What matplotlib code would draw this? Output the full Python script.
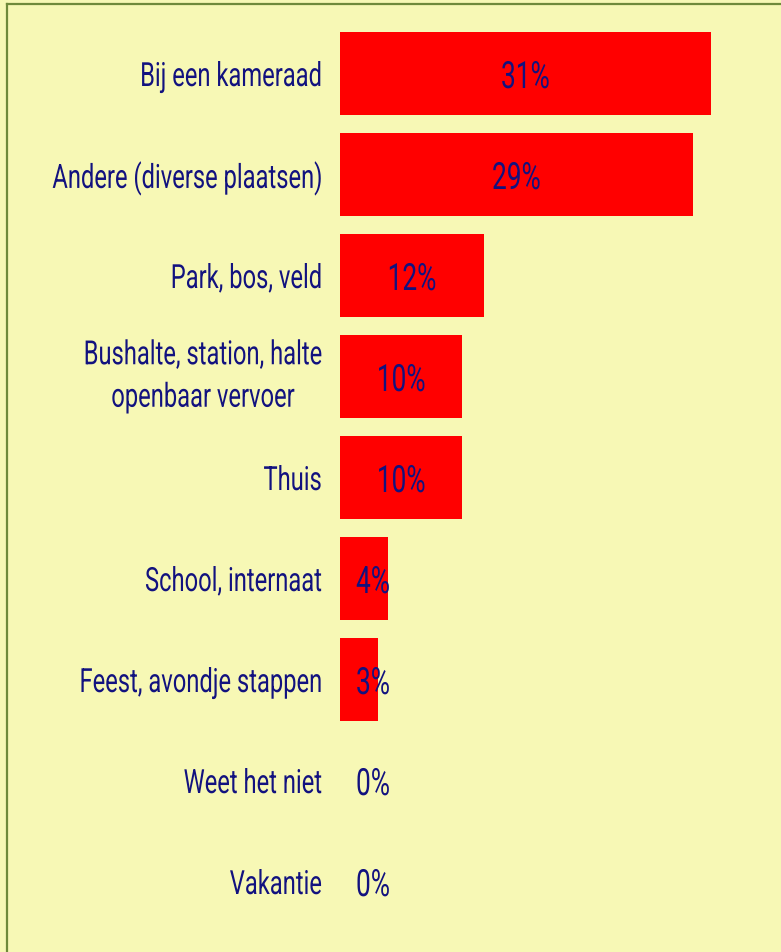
import matplotlib
matplotlib.use('Agg')
import matplotlib.pyplot as plt
from matplotlib.lines import Line2D
from matplotlib.patheffects import AbstractPathEffect
from matplotlib.transforms import Affine2D, Bbox
from matplotlib.text import Text

# data
categories = ['Bij een kameraad', 'Andere (diverse plaatsen)', 'Park, bos, veld',
              'Bushalte, station, halte\nopenbaar vervoer', 'Thuis', 'School, internaat',
              'Feest, avondje stappen', 'Weet het niet', 'Vakantie']
values = [30.9, 29.4, 12.0, 10.2, 10.2, 4.0, 3.2, 0.0, 0.0]
labels = ['31%', '29%', '12%', '10%', '10%', '4%', '3%', '0%', '0%']

bg = '#f7f8b5'
barcol = '#ff0000'
txtcol = '#12127f'
plt.rcParams['font.family'] = ['Roboto', 'DejaVu Sans']


def anchor_x(t, bb):
    ha = t.get_horizontalalignment()
    return {'left': bb.x0, 'right': bb.x1}.get(ha, (bb.x0 + bb.x1) / 2)


# no condensed font installed -> squeeze the glyphs horizontally around the anchor
class Squeeze(AbstractPathEffect):
    def __init__(self, text, sx):
        super().__init__()
        self.text = text
        self.sx = sx

    def draw_path(self, renderer, gc, tpath, affine, rgbFace=None):
        bb = Text.get_window_extent(self.text, renderer)
        x0 = anchor_x(self.text, bb)
        aff = affine + Affine2D().translate(-x0, 0).scale(self.sx, 1).translate(x0, 0)
        renderer.draw_path(gc, tpath, aff, rgbFace)


def squeeze(t, sx):
    t.set_path_effects([Squeeze(t, sx)])

    def extent(renderer=None, dpi=None):
        bb = Text.get_window_extent(t, renderer, dpi)
        x0 = anchor_x(t, bb)
        return Bbox([[x0 + (bb.x0 - x0) * sx, bb.y0], [x0 + (bb.x1 - x0) * sx, bb.y1]])
    t.get_window_extent = extent


W, H = 781, 953
fig = plt.figure(figsize=(W / 100, H / 100), dpi=100, facecolor=bg)

# axes: bars start at x=340px, rows centred from 74px, 101px apart
ax = fig.add_axes([340 / W, 1 - 933 / H, 1 - 340 / W, (933 - 24) / H])
ax.set_facecolor(bg)
ypos = list(range(len(categories)))
ax.barh(ypos, values, height=0.82, color=barcol)
ax.set_xlim(0, 441 / 12.0)
ax.set_ylim(len(categories) - 0.5, -0.5)

for y, v, lab in zip(ypos, values, labels):
    t = ax.text(max(v / 2, 2.75), y, lab, ha='center', va='center_baseline',
                fontsize=27, color=txtcol)
    squeeze(t, 0.70)

ax.set_yticks(ypos)
ax.set_yticklabels(categories, fontsize=24, color=txtcol, linespacing=1.42)
for t in ax.get_yticklabels():
    t.set_multialignment('center')
    if '\n' in t.get_text():
        t.set_verticalalignment('center')
    squeeze(t, 0.712)
ax.tick_params(axis='y', length=0, pad=13)
ax.set_xticks([])
for s in ax.spines.values():
    s.set_visible(False)

# olive frame, only top and left visible
fig.add_artist(Line2D([7.5 / W, 7.5 / W], [0, 1 - 4.5 / H], transform=fig.transFigure,
                      color='#6f8a3b', lw=1.6))
fig.add_artist(Line2D([7.5 / W, 1], [1 - 4.5 / H, 1 - 4.5 / H], transform=fig.transFigure,
                      color='#6f8a3b', lw=1.6))

fig.savefig('out.png', dpi=100, facecolor=bg)
